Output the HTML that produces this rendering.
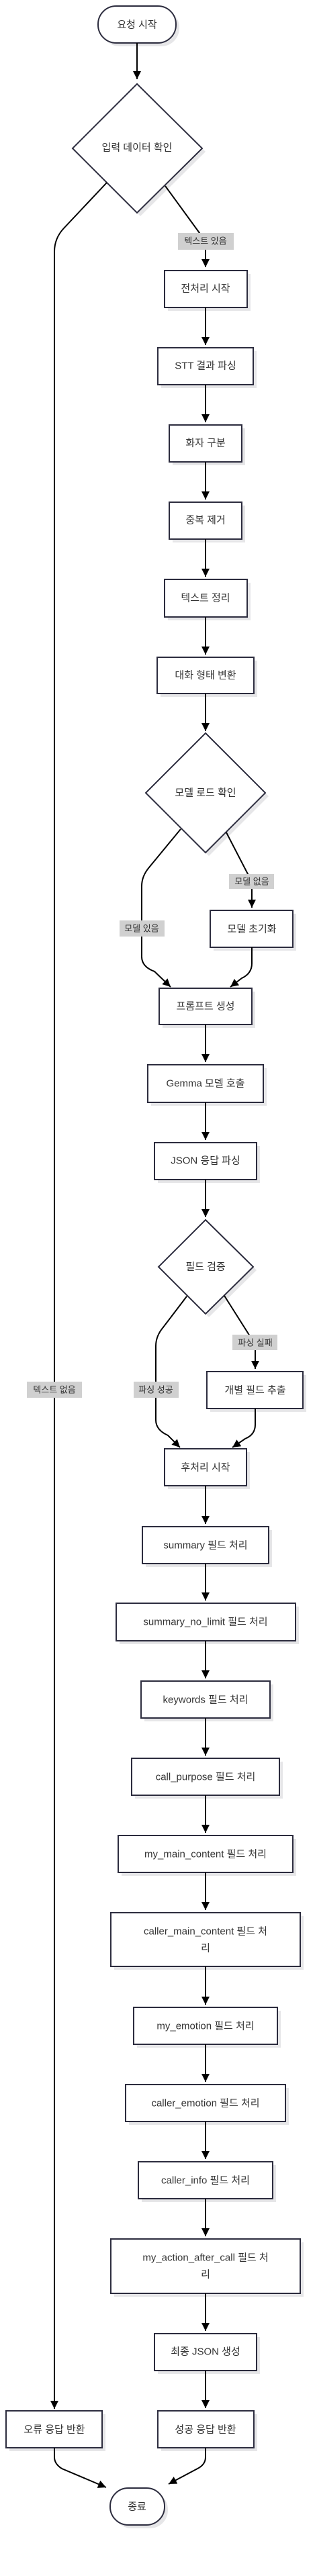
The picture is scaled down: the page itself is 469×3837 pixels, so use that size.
<!DOCTYPE html>
<html><head><meta charset="utf-8"><style>
html,body{margin:0;padding:0;background:#fff;}
svg{display:block;}
text{font-family:"Liberation Sans","Noto Sans CJK KR",sans-serif;font-size:15px;fill:#333;text-anchor:middle;dominant-baseline:central;}
.n{fill:#fff;stroke:#2c2c3e;stroke-width:2;}
.s{fill:#e6e6e8;}
.e{fill:none;stroke:#000;stroke-width:2;}
.lb{fill:#d0d0d0;}
.lt{font-size:13px;fill:#333;}
</style></head><body>
<svg width="469" height="3837" viewBox="0 0 469 3837" xmlns="http://www.w3.org/2000/svg">
<defs>
<marker id="a" markerUnits="userSpaceOnUse" markerWidth="14" markerHeight="12" refX="12" refY="6" orient="auto"><path d="M0,0L12,6L0,12z" fill="#000"/></marker>
</defs>

<!-- start -->
<rect class="s" x="151" y="14" width="116" height="55" rx="27"/>
<rect class="n" x="146" y="9" width="116" height="55" rx="27"/>
<text x="204" y="37">요청 시작</text>
<path class="e" d="M204,64 L204,118" marker-end="url(#a)"/>

<!-- diamond 1 -->
<polygon class="s" points="209,130 306,226 209,322 113,226"/>
<polygon class="n" points="204,125 301,221 204,317 108,221"/>
<text x="204" y="220">입력 데이터 확인</text>

<!-- left edge -->
<path class="e" d="M159,272 L95,340 Q81,355 81,375 L81,3588" marker-end="url(#a)"/>
<rect class="lb" x="40" y="2058" width="82" height="24"/>
<text class="lt" x="81" y="2070">텍스트 없음</text>

<!-- right edge -->
<path class="e" d="M246,277 L297,347 L306,360 L306,398" marker-end="url(#a)"/>
<rect class="lb" x="265" y="347" width="83" height="25"/>
<text class="lt" x="306" y="359">텍스트 있음</text>

<!-- boxes -->
<g>
<rect class="s" x="250" y="408" width="123" height="55"/><rect class="n" x="245" y="403" width="123" height="55"/><text x="306" y="430">전처리 시작</text>
<rect class="s" x="240" y="523" width="142" height="55"/><rect class="n" x="235" y="518" width="142" height="55"/><text x="306" y="545">STT 결과 파싱</text>
<rect class="s" x="257" y="638" width="108" height="55"/><rect class="n" x="252" y="633" width="108" height="55"/><text x="306" y="660">화자 구분</text>
<rect class="s" x="257" y="753" width="108" height="55"/><rect class="n" x="252" y="748" width="108" height="55"/><text x="306" y="775">중복 제거</text>
<rect class="s" x="250" y="868" width="123" height="56"/><rect class="n" x="245" y="863" width="123" height="56"/><text x="306" y="891">텍스트 정리</text>
<rect class="s" x="239" y="984" width="144" height="54"/><rect class="n" x="234" y="979" width="144" height="54"/><text x="306" y="1006">대화 형태 변환</text>
</g>
<path class="e" d="M306,458 L306,514" marker-end="url(#a)"/>
<path class="e" d="M306,573 L306,629" marker-end="url(#a)"/>
<path class="e" d="M306,688 L306,744" marker-end="url(#a)"/>
<path class="e" d="M306,803 L306,859" marker-end="url(#a)"/>
<path class="e" d="M306,919 L306,975" marker-end="url(#a)"/>
<path class="e" d="M306,1033 L306,1089" marker-end="url(#a)"/>

<!-- diamond 2 -->
<polygon class="s" points="311,1097 400,1186 311,1275 222,1186"/>
<polygon class="n" points="306,1092 395,1181 306,1270 217,1181"/>
<text x="306" y="1181">모델 로드 확인</text>
<path class="e" d="M269,1235 L222,1292 Q211,1305 211,1320 L211,1425 Q211,1440 230,1447 L254,1470" marker-end="url(#a)"/>
<rect class="lb" x="178" y="1371" width="67" height="24"/>
<text class="lt" x="211" y="1383">모델 있음</text>
<path class="e" d="M337,1240 L368,1300 L375,1313 L375,1352" marker-end="url(#a)"/>
<rect class="lb" x="341" y="1302" width="67" height="22"/>
<text class="lt" x="375" y="1313">모델 없음</text>
<rect class="s" x="318" y="1361" width="123" height="55"/><rect class="n" x="313" y="1356" width="123" height="55"/><text x="375" y="1384">모델 초기화</text>
<path class="e" d="M375,1411 L375,1435 Q375,1450 360,1457 L343,1470" marker-end="url(#a)"/>

<rect class="s" x="242" y="1477" width="138" height="54"/><rect class="n" x="237" y="1472" width="138" height="54"/><text x="306" y="1499">프롬프트 생성</text>
<path class="e" d="M306,1526 L306,1582" marker-end="url(#a)"/>
<rect class="s" x="225" y="1591" width="172" height="56"/><rect class="n" x="220" y="1586" width="172" height="56"/><text x="306" y="1614">Gemma 모델 호출</text>
<path class="e" d="M306,1642 L306,1698" marker-end="url(#a)"/>
<rect class="s" x="235" y="1707" width="152" height="55"/><rect class="n" x="230" y="1702" width="152" height="55"/><text x="306" y="1729">JSON 응답 파싱</text>
<path class="e" d="M306,1757 L306,1813" marker-end="url(#a)"/>

<!-- diamond 3 -->
<polygon class="s" points="311,1822 382,1892 311,1962 241,1892"/>
<polygon class="n" points="306,1817 377,1887 306,1957 236,1887"/>
<text x="306" y="1887">필드 검증</text>
<path class="e" d="M278,1931 L243,1977 Q232,1990 232,2005 L232,2115 Q232,2130 250,2138 L268,2156" marker-end="url(#a)"/>
<rect class="lb" x="199" y="2058" width="67" height="24"/>
<text class="lt" x="232" y="2070">파싱 성공</text>
<path class="e" d="M334,1930 L372,1990 L380,2000 L380,2039" marker-end="url(#a)"/>
<rect class="lb" x="346" y="1988" width="67" height="23"/>
<text class="lt" x="380" y="2000">파싱 실패</text>
<rect class="s" x="313" y="2048" width="143" height="55"/><rect class="n" x="308" y="2043" width="143" height="55"/><text x="380" y="2071">개별 필드 추출</text>
<path class="e" d="M380,2098 L380,2122 Q380,2137 365,2143 L346,2156" marker-end="url(#a)"/>

<rect class="s" x="250" y="2163" width="122" height="55"/><rect class="n" x="245" y="2158" width="122" height="55"/><text x="306" y="2186">후처리 시작</text>
<path class="e" d="M306,2213 L306,2270" marker-end="url(#a)"/>
<rect class="s" x="217" y="2279" width="188" height="55"/><rect class="n" x="212" y="2274" width="188" height="55"/><text x="306" y="2302">summary 필드 처리</text>
<path class="e" d="M306,2329 L306,2384" marker-end="url(#a)"/>
<rect class="s" x="178" y="2393" width="267" height="56"/><rect class="n" x="173" y="2388" width="267" height="56"/><text x="306" y="2416">summary_no_limit 필드 처리</text>
<path class="e" d="M306,2444 L306,2500" marker-end="url(#a)"/>
<rect class="s" x="215" y="2509" width="192" height="55"/><rect class="n" x="210" y="2504" width="192" height="55"/><text x="306" y="2532">keywords 필드 처리</text>
<path class="e" d="M306,2559 L306,2615" marker-end="url(#a)"/>
<rect class="s" x="201" y="2624" width="220" height="55"/><rect class="n" x="196" y="2619" width="220" height="55"/><text x="306" y="2647">call_purpose 필드 처리</text>
<path class="e" d="M306,2674 L306,2730" marker-end="url(#a)"/>
<rect class="s" x="181" y="2739" width="260" height="55"/><rect class="n" x="176" y="2734" width="260" height="55"/><text x="306" y="2762">my_main_content 필드 처리</text>
<path class="e" d="M306,2789 L306,2845" marker-end="url(#a)"/>
<rect class="s" x="170" y="2854" width="282" height="80"/><rect class="n" x="165" y="2849" width="282" height="80"/><text x="306" y="2877">caller_main_content 필드 처</text><text x="306" y="2902">리</text>
<path class="e" d="M306,2929 L306,2986" marker-end="url(#a)"/>
<rect class="s" x="204" y="2995" width="214" height="55"/><rect class="n" x="199" y="2990" width="214" height="55"/><text x="306" y="3018">my_emotion 필드 처리</text>
<path class="e" d="M306,3045 L306,3101" marker-end="url(#a)"/>
<rect class="s" x="192" y="3110" width="238" height="55"/><rect class="n" x="187" y="3105" width="238" height="55"/><text x="306" y="3133">caller_emotion 필드 처리</text>
<path class="e" d="M306,3160 L306,3216" marker-end="url(#a)"/>
<rect class="s" x="211" y="3225" width="200" height="55"/><rect class="n" x="206" y="3220" width="200" height="55"/><text x="306" y="3248">caller_info 필드 처리</text>
<path class="e" d="M306,3275 L306,3331" marker-end="url(#a)"/>
<rect class="s" x="170" y="3340" width="282" height="81"/><rect class="n" x="165" y="3335" width="282" height="81"/><text x="306" y="3363">my_action_after_call 필드 처</text><text x="306" y="3388">리</text>
<path class="e" d="M306,3416 L306,3472" marker-end="url(#a)"/>
<rect class="s" x="235" y="3481" width="152" height="55"/><rect class="n" x="230" y="3476" width="152" height="55"/><text x="306" y="3503">최종 JSON 생성</text>
<path class="e" d="M306,3531 L306,3587" marker-end="url(#a)"/>
<rect class="s" x="240" y="3596" width="143" height="55"/><rect class="n" x="235" y="3591" width="143" height="55"/><text x="306" y="3619">성공 응답 반환</text>
<rect class="s" x="14" y="3596" width="143" height="55"/><rect class="n" x="9" y="3591" width="143" height="55"/><text x="81" y="3619">오류 응답 반환</text>

<path class="e" d="M81,3646 L81,3660 Q81,3670 92,3677 L158,3705" marker-end="url(#a)"/>
<path class="e" d="M306,3646 L306,3660 Q306,3670 296,3676 L251,3700" marker-end="url(#a)"/>

<rect class="s" x="169" y="3711" width="81" height="55" rx="27"/>
<rect class="n" x="164" y="3706" width="81" height="55" rx="27"/>
<text x="204" y="3734">종료</text>
</svg>
</body></html>
